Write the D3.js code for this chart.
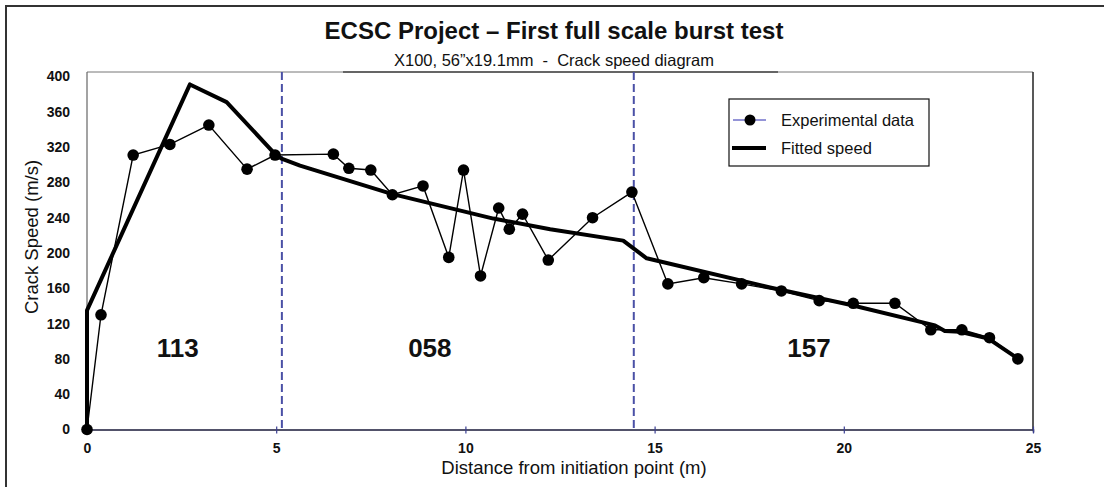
<!DOCTYPE html>
<html><head><meta charset="utf-8">
<script src="https://cdn.jsdelivr.net/npm/d3@7"></script>
<style>
html,body{margin:0;padding:0;background:#fff;}
svg{display:block;font-family:"Liberation Sans",Arial,sans-serif;}
</style></head>
<body><svg id="c" width="1104" height="487"></svg>
<script>
// ---- data ----
const expDistance = [0, 0.37, 1.22, 2.19, 3.22, 4.23, 4.97, 6.51, 6.92, 7.5, 8.07, 8.88, 9.56, 9.95, 10.4, 10.88, 11.16, 11.51, 12.19, 13.36, 14.4, 15.35, 16.3, 17.3, 18.35, 19.35, 20.25, 21.35, 22.3, 23.12, 23.85, 24.6];
const expSpeed    = [0, 130, 311, 323, 345, 295, 311, 312, 296, 294, 266, 276, 195, 294, 174, 251, 227, 244, 192, 240, 269, 165, 172, 165, 157, 146, 143, 143, 113, 113, 104, 80];
const fitDistance = [0, 0, 2.72, 3.69, 4.97, 5.14, 5.63, 8.05, 10.74, 12.24, 14.17, 14.79, 18.05, 20.19, 22.41, 22.67, 23.07, 23.82, 24.66];
const fitSpeed    = [0, 135, 391, 371, 312, 307, 299, 267, 239, 227, 214, 194, 161, 141, 118, 111.5, 110.7, 103, 78.6];
const dividerDistance = [5.15, 14.45];
const zoneNames = ["113", "058", "157"];
const zoneDistance = [2.4, 9.06, 19.08];
const zoneSpeed = [92, 92, 92];
const xTicks = [0, 5, 10, 15, 20, 25];
const yTicks = [0, 40, 80, 120, 160, 200, 240, 280, 320, 360, 400];
const titleText = "ECSC Project – First full scale burst test";
const subtitleText = "X100, 56”x19.1mm  -  Crack speed diagram";
const xTitle = "Distance from initiation point (m)";
const yTitle = "Crack Speed (m/s)";
const legendNames = ["Experimental data", "Fitted speed"];

// ---- layout ----
const svg = d3.select("#c");
const L = 87, R = 1033, T = 72, B = 429.5;
const x = d3.scaleLinear().domain([0, 25]).range([L, R]);
const y = d3.scaleLinear().domain([0, 400]).range([B, 76.5]);
const navy = "#3b3f93";

// outer border
svg.append("rect").attr("x", 6).attr("y", 6).attr("width", 1110).attr("height", 500)
  .attr("fill", "none").attr("stroke", "#333").attr("stroke-width", 2);

// title
svg.append("text").attr("x", 554).attr("y", 39).attr("text-anchor", "middle")
  .attr("font-size", 24).attr("font-weight", "bold").attr("fill", "#111").text(titleText);

// plot frame
svg.append("line").attr("x1", L).attr("x2", R).attr("y1", T).attr("y2", T).attr("stroke", "#777").attr("stroke-width", 1);
svg.append("line").attr("x1", 343).attr("x2", 778).attr("y1", T).attr("y2", T).attr("stroke", "#111").attr("stroke-width", 1.2);
svg.append("line").attr("x1", R).attr("x2", R).attr("y1", T).attr("y2", B).attr("stroke", "#222").attr("stroke-width", 1.5);
svg.append("line").attr("x1", L).attr("x2", L).attr("y1", T).attr("y2", B).attr("stroke", "#666").attr("stroke-width", 1.2);

// subtitle
svg.append("text").attr("x", 554).attr("y", 66).attr("text-anchor", "middle")
  .style("white-space", "pre")
  .attr("font-size", 16.5).attr("fill", "#111").text(subtitleText);

// dividers
svg.selectAll("line.div").data(dividerDistance).join("line").attr("class", "div")
  .attr("x1", d => x(d)).attr("x2", d => x(d)).attr("y1", T).attr("y2", B)
  .attr("stroke", "#4a50a6").attr("stroke-width", 2).attr("stroke-dasharray", "8,4");

// y axis
const yAxis = svg.append("g").attr("transform", `translate(${L},0)`)
  .call(d3.axisLeft(y).tickValues(yTicks).tickSize(0).tickPadding(17));
yAxis.select(".domain").remove();
yAxis.selectAll("text").attr("font-size", 14).attr("font-weight", "bold").attr("fill", "#111")
  .attr("font-family", "Liberation Sans, Arial, sans-serif");

// x axis
const xAxis = svg.append("g").attr("transform", `translate(0,${B})`)
  .call(d3.axisBottom(x).tickValues(xTicks).tickSize(3).tickPadding(11));
xAxis.select(".domain").attr("stroke", "#1a1a3a").attr("stroke-width", 1.5);
xAxis.selectAll(".tick line").attr("y1", -3).attr("y2", 4).attr("stroke", navy).attr("stroke-width", 1.2);
xAxis.selectAll("text").attr("font-size", 14).attr("font-weight", "bold").attr("fill", "#111")
  .attr("font-family", "Liberation Sans, Arial, sans-serif");

// axis titles
svg.append("text").attr("x", 574).attr("y", 474).attr("text-anchor", "middle")
  .attr("font-size", 18.5).attr("fill", "#111").text(xTitle);
svg.append("text").attr("transform", `translate(38,${237}) rotate(-90)`).attr("text-anchor", "middle")
  .attr("font-size", 18.5).attr("fill", "#111").text(yTitle);

// zone labels
svg.selectAll("text.zone").data(zoneNames).join("text").attr("class", "zone")
  .attr("x", (d, i) => x(zoneDistance[i])).attr("y", (d, i) => y(zoneSpeed[i]))
  .attr("dy", "0.35em").attr("text-anchor", "middle")
  .attr("font-size", 26).attr("font-weight", "bold").attr("fill", "#111").text(d => d);

// series
const expData = expDistance.map((d, i) => [d, expSpeed[i]]);
const fitData = fitDistance.map((d, i) => [d, fitSpeed[i]]);
const line = d3.line().x(d => x(d[0])).y(d => y(d[1]));
svg.append("path").datum(expData).attr("d", line).attr("fill", "none")
  .attr("stroke", "#000").attr("stroke-width", 1.4);
svg.append("path").datum(fitData).attr("d", line).attr("fill", "none")
  .attr("stroke", "#000").attr("stroke-width", 4).attr("stroke-linejoin", "round");
svg.selectAll("circle.pt").data(expData).join("circle").attr("class", "pt")
  .attr("cx", d => x(d[0])).attr("cy", d => y(d[1])).attr("r", 5.8).attr("fill", "#000");

// legend
const lg = svg.append("g").attr("transform", "translate(729,99)");
lg.append("rect").attr("width", 200).attr("height", 67).attr("fill", "#fff").attr("stroke", "#111").attr("stroke-width", 1.2);
lg.append("line").attr("x1", 4).attr("x2", 37).attr("y1", 21).attr("y2", 21).attr("stroke", "#2a2ab0").attr("stroke-width", 1);
lg.append("circle").attr("cx", 21).attr("cy", 21).attr("r", 5.5).attr("fill", "#000");
lg.append("line").attr("x1", 3).attr("x2", 37).attr("y1", 49).attr("y2", 49).attr("stroke", "#000").attr("stroke-width", 4);
lg.selectAll("text.lt").data(legendNames).join("text").attr("class", "lt")
  .attr("x", 52).attr("y", (d, i) => 21 + i * 28).attr("dy", "0.35em")
  .attr("font-size", 16.5).attr("fill", "#111").text(d => d);
</script></body></html>
